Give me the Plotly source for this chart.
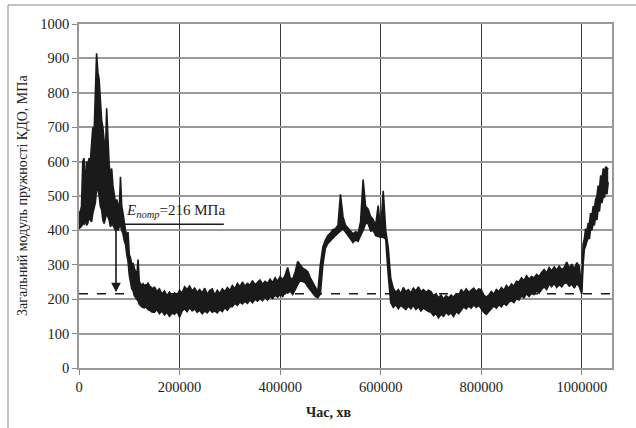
import plotly.graph_objects as go

# ---- data (upper / lower edge of the noisy band) ----
early_t0, early_step = 0, 2500
early_upper = [450, 455, 470, 600, 610, 520, 600, 590, 610, 600,
               650, 700, 680, 780, 915, 860, 840, 780, 720, 700,
               650, 620, 755, 640, 590, 560, 580, 530, 500, 480,
               490, 470, 460, 556, 470, 450, 420, 400, 385, 395,
               330, 320, 300, 305, 290, 280, 270, 315, 250, 245,
               240, 245, 238, 242, 240, 248, 238, 236, 232, 230]
early_lower = [405, 408, 412, 420, 418, 430, 415, 420, 440, 430,
               425, 450, 470, 480, 520, 520, 500, 470, 460, 430,
               420, 440, 450, 440, 430, 410, 420, 415, 405, 400,
               405, 400, 410, 415, 400, 390, 370, 360, 330, 310,
               270, 250, 230, 225, 210, 205, 200, 195, 185, 180,
               178, 176, 175, 178, 172, 170, 168, 165, 163, 162]

mid_t0, mid_step = 150000, 5000
mid_upper = [236, 222, 230, 215, 224, 210, 221, 208, 218, 212,
             226, 218, 236, 228, 238, 224, 232, 220,
             228, 218, 232, 214, 226, 230, 212, 226, 216, 230, 222, 234, 226,
             240, 230, 246, 236, 250, 238, 246, 240, 254, 242, 250,
             256, 244, 252, 246, 258, 248, 262, 252,
             266, 256, 270, 292, 262, 258, 280, 310, 298, 290, 286, 280, 262, 250, 235, 222,
             300, 352, 372, 385, 392, 402, 405, 415, 505, 440, 415, 405, 398, 390,
             396, 392, 425, 548, 470, 462, 440, 432, 415, 472, 400, 515, 400,
             350, 260,
             232, 220, 228, 216, 234, 222, 228, 218, 232, 224, 236, 222, 228, 220, 226,
             222, 210, 216, 204, 212, 200, 210, 204, 212, 206, 216, 210,
             228, 218, 230, 220, 226, 232, 222, 230,
             228, 212, 206, 212,
             222, 214, 228, 222, 234, 226, 240, 232, 244, 238, 252,
             250, 262, 254, 268, 258, 266,
             262, 272, 266, 278,
             286, 276, 292, 282, 294, 284, 296, 286, 292,
             308, 290, 302, 288, 306, 296]
mid_lower = [162, 170, 158, 166, 154, 162, 150, 160, 156, 164,
             148, 166, 172, 164, 176, 166, 172, 162,
             168, 158, 166, 160, 170, 162, 166, 160, 170, 164, 176, 168, 178,
             178, 188, 182, 192, 186, 194, 188, 198, 190, 200, 194,
             202, 196, 206, 198, 208, 202, 212, 206,
             214, 208, 220, 218, 224, 214, 226, 242, 256, 252, 248, 236, 226, 216, 208, 204,
             215, 300, 348, 362, 370, 380, 385, 392, 400, 405, 395, 385, 378, 365,
             372, 368, 385, 400, 420, 420, 398, 400, 385, 382, 380, 380, 375,
             270, 190,
             176, 184, 172, 182, 176, 170, 180, 172, 182, 170, 178, 166, 174, 168, 164,
             162, 152, 158, 146, 156, 150, 162, 154, 160, 150, 164, 158,
             168, 178, 172, 180, 174, 184, 176, 182,
             172, 162, 156, 164,
             170, 180, 174, 184, 178, 188, 182, 192, 196, 190, 202,
             198, 210, 204, 216, 208, 218,
             214, 224, 218, 228,
             236, 228, 244, 236, 246, 234, 242, 236, 246,
             248, 238, 244, 232, 246, 236]

late_t0, late_step = 997500, 2500
late_upper = [260, 230, 360, 375, 405, 395, 420, 420, 450, 440,
              470, 465, 490, 500, 530, 520, 560, 545, 580, 570,
              585, 580, 578]
late_lower = [225, 215, 300, 345, 355, 365, 380, 375, 405, 400,
              420, 415, 440, 430, 465, 455, 490, 480, 500, 495,
              520, 505, 540]

E_req = 216
x_ticks = [0, 200000, 400000, 600000, 800000, 1000000]
y_ticks = [0, 100, 200, 300, 400, 500, 600, 700, 800, 900, 1000]

times = ([early_t0 + early_step * i for i in range(len(early_upper))] +
         [mid_t0 + mid_step * i for i in range(len(mid_upper))] +
         [late_t0 + late_step * i for i in range(len(late_upper))])
upper = early_upper + mid_upper + late_upper
lower = early_lower + mid_lower + late_lower

font = "Liberation Serif, Times New Roman, serif"
ink = "#1a1a1a"

fig = go.Figure()
fig.add_trace(go.Scatter(x=times, y=lower, mode="lines",
                         line=dict(color=ink, width=1.6),
                         showlegend=False, hoverinfo="skip"))
fig.add_trace(go.Scatter(x=times, y=upper, mode="lines", fill="tonexty",
                         fillcolor=ink, line=dict(color=ink, width=1.6),
                         showlegend=False, hoverinfo="skip"))

fig.update_layout(
    width=636, height=428,
    margin=dict(l=79, r=24, t=24, b=60, autoexpand=False),
    paper_bgcolor="white", plot_bgcolor="white",
    font=dict(family=font, size=14, color="#222"),
    showlegend=False,
)
fig.update_xaxes(range=[0, 1060000], tickvals=x_ticks,
                 ticktext=[str(v) for v in x_ticks],
                 showgrid=True, gridcolor="#3a3a3a", gridwidth=1,
                 showline=True, linecolor="#999", linewidth=1.5, mirror=True,
                 ticks="outside", ticklen=5, tickcolor="#888",
                 zeroline=False, automargin=False,
                 tickfont=dict(size=14.5, family=font, color="#222"))
fig.update_yaxes(range=[0, 1000], tickvals=y_ticks,
                 showgrid=True, gridcolor="#9a9a9a", gridwidth=1.5,
                 showline=True, linecolor="#999", linewidth=1.5, mirror=True,
                 ticks="outside", ticklen=5, tickcolor="#888",
                 zeroline=False, automargin=False,
                 tickfont=dict(size=14.5, family=font, color="#222"))

# required modulus dashed line
fig.add_shape(type="line", xref="x", yref="y", x0=0, x1=1060000,
              y0=E_req, y1=E_req, line=dict(color=ink, width=1.6, dash="dash"))
# label underline
fig.add_shape(type="line", xref="x", yref="y", x0=85500, x1=288000,
              y0=418, y1=418, line=dict(color=ink, width=1.6))
# arrow
fig.add_annotation(x=73600, y=E_req + 4, ax=73600, ay=418, xref="x", yref="y",
                   axref="x", ayref="y", text="", showarrow=True,
                   arrowhead=2, arrowsize=1.2, arrowwidth=1.6, arrowcolor=ink)
fig.add_annotation(x=192800, y=456, xref="x", yref="y", showarrow=False,
                   xanchor="center", yanchor="middle",
                   text="<i>E</i><sub><i>потр</i></sub>=216 МПа",
                   font=dict(family=font, size=15, color="#222"))

# axis titles
fig.add_annotation(x=(22 - 79) / 533, y=0.5, xref="x domain", yref="y domain",
                   showarrow=False, xanchor="center", yanchor="middle",
                   text="Загальний модуль пружності КДО, МПа", textangle=-90,
                   font=dict(family=font, size=14, color="#222"))
fig.add_annotation(x=(328 - 79) / 533, y=(368 - 412) / 344, xref="x domain", yref="y domain",
                   showarrow=False, xanchor="center", yanchor="middle",
                   text="<b>Час, хв</b>",
                   font=dict(family=font, size=14, color="#222"))

# outer frame lines (left and top)
fx = (8 - 79) / 533
fy = (368 - 5) / 344
fig.add_shape(type="line", xref="paper", yref="paper",
              x0=fx, x1=fx, y0=(368 - 428) / 344, y1=fy,
              line=dict(color="#888", width=1))
fig.add_shape(type="line", xref="paper", yref="paper",
              x0=fx, x1=(636 - 79) / 533, y0=fy, y1=fy,
              line=dict(color="#888", width=1))

fig.write_html("out.html", config={"displayModeBar": False},
               post_script="document.body.style.margin='0';")
